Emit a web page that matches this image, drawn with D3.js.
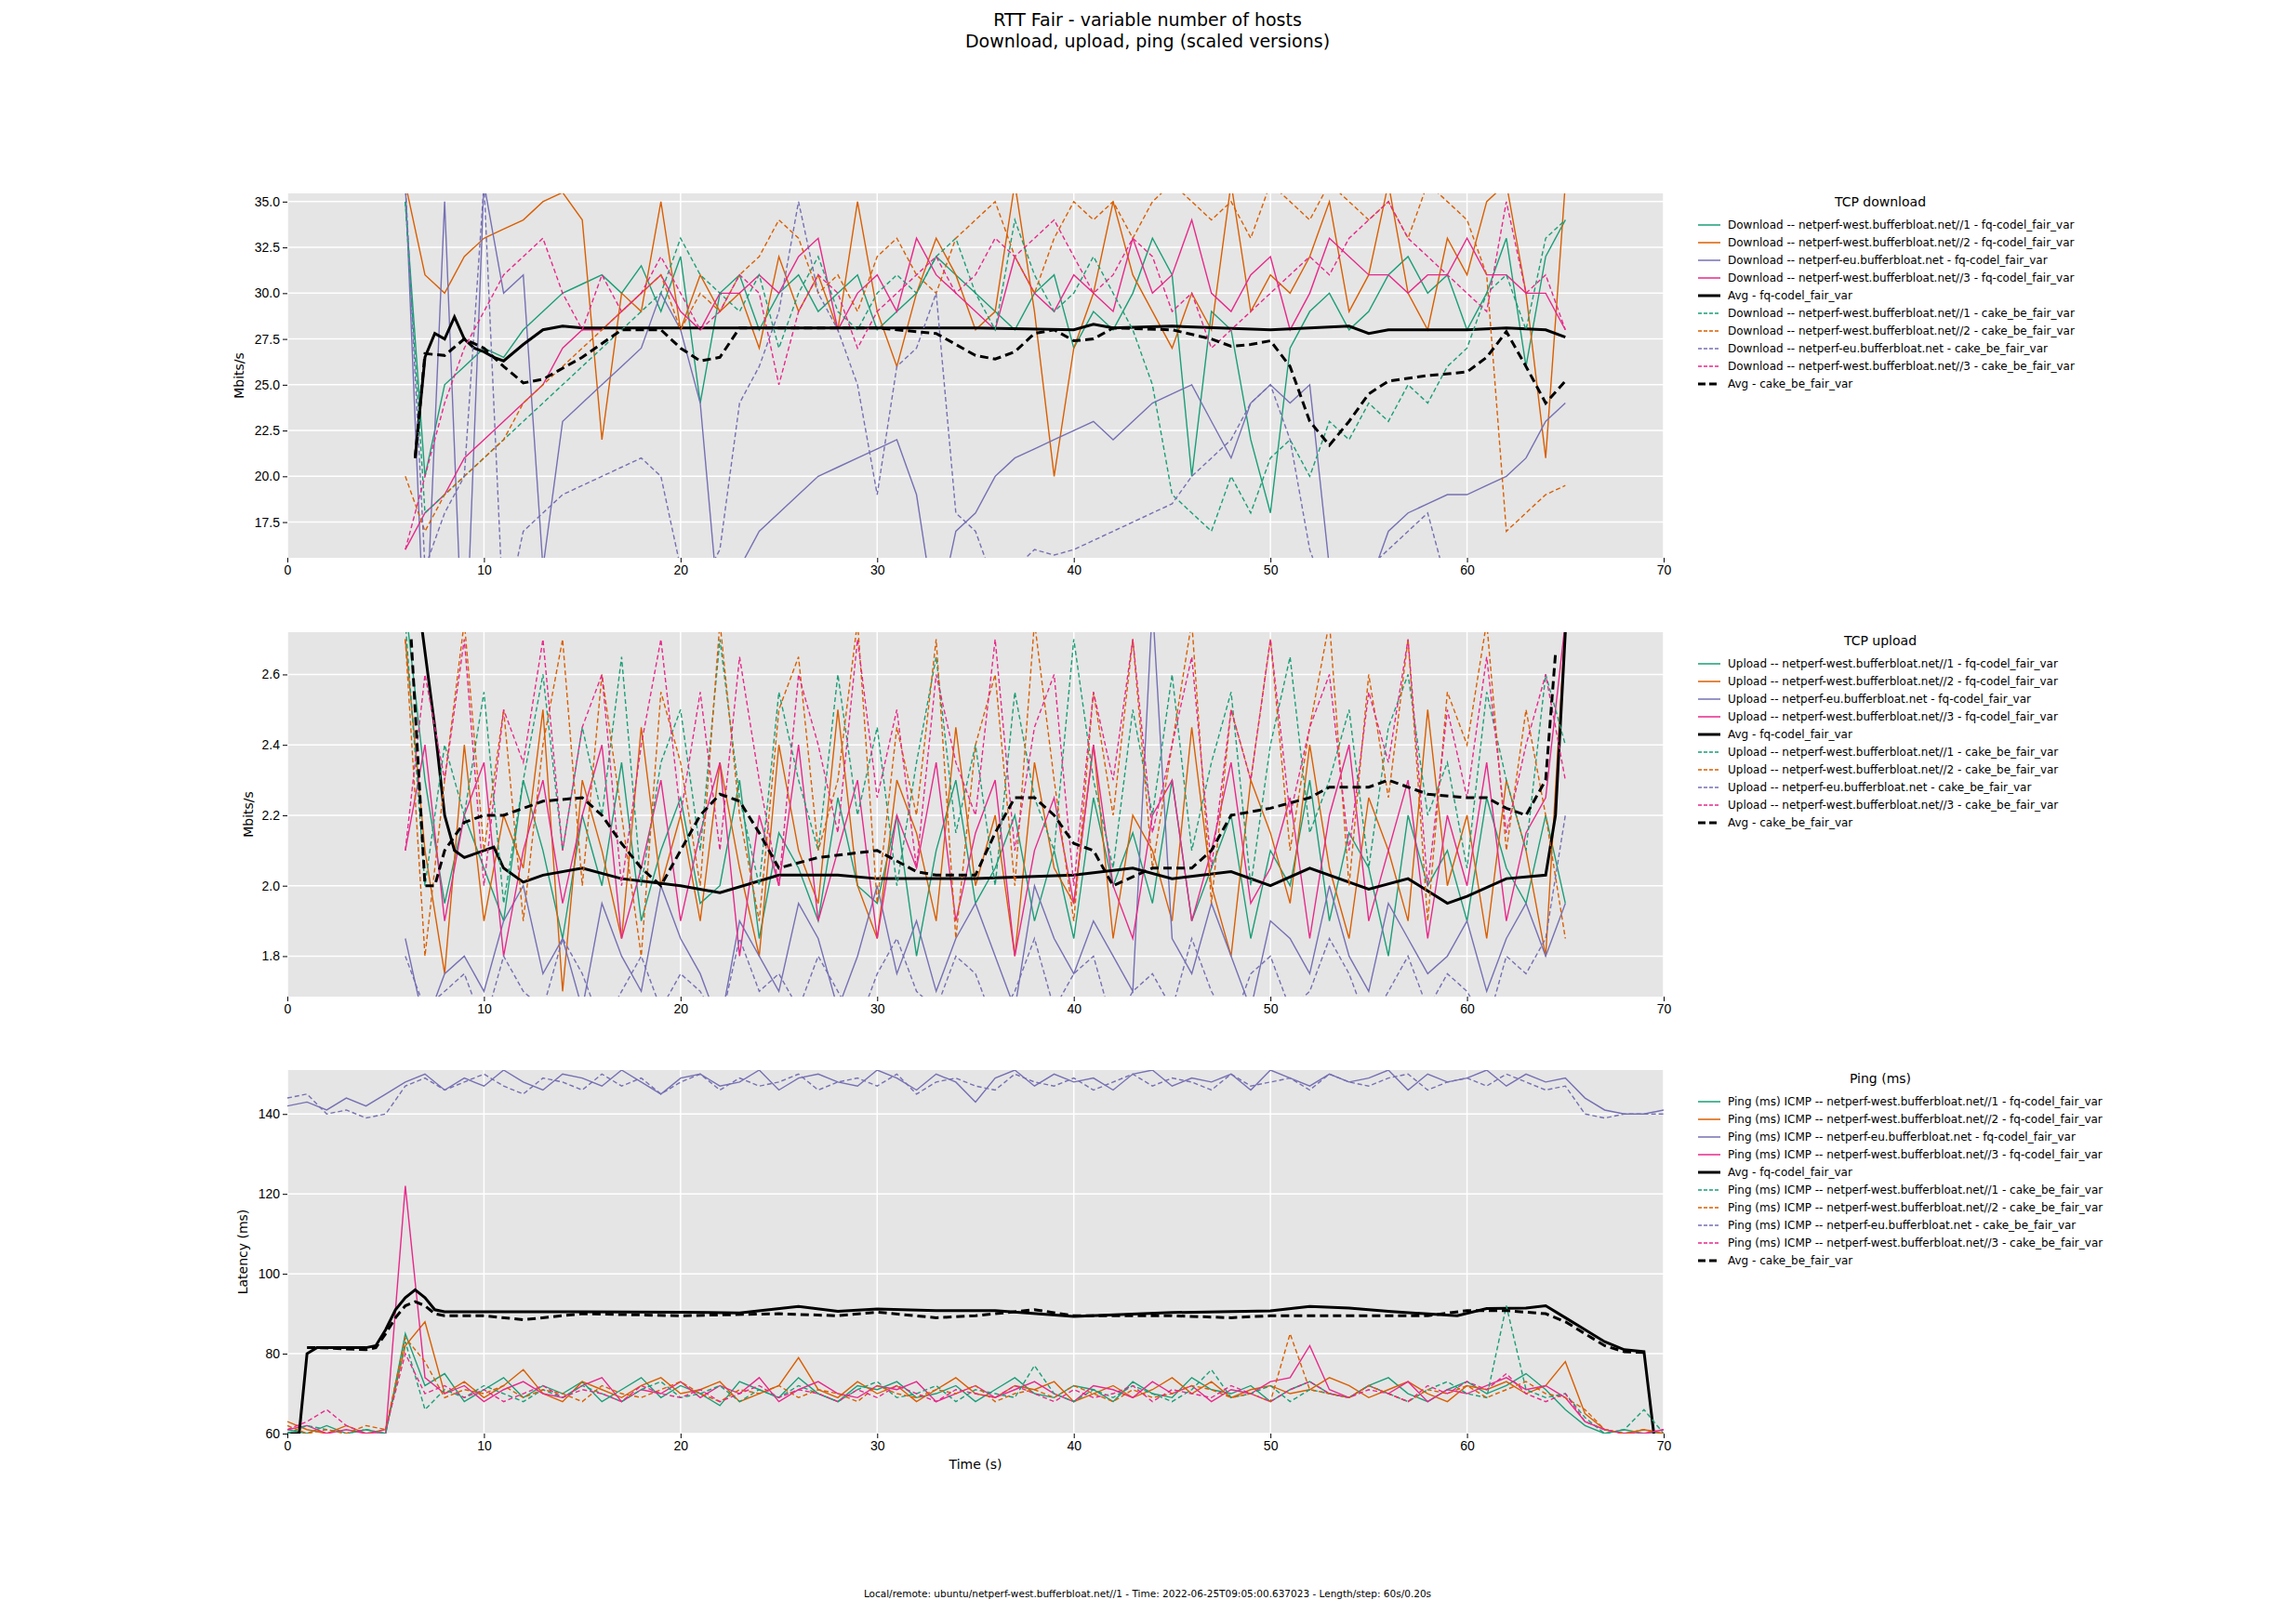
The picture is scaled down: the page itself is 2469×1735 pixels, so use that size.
<!DOCTYPE html>
<html><head><meta charset="utf-8">
<script src="https://cdn.jsdelivr.net/npm/d3@7"></script>
<style>
body{margin:0;background:#fff;font-family:"DejaVu Sans",sans-serif;}
.tick text{font-size:14px;fill:#000}
.tick line{stroke:#000}
.domain{display:none}
</style></head><body>
<svg id="chart" width="2469" height="1735"></svg>
<script>
const colors = ["#1b9e77", "#d95f02", "#7570b3", "#e7298a"];
const hosts = ["netperf-west.bufferbloat.net//1", "netperf-west.bufferbloat.net//2", "netperf-eu.bufferbloat.net", "netperf-west.bufferbloat.net//3"];

// per-second samples, t = 6 .. 65
const dlFq1 = [35,20,25,26,27,26.5,28,29,30,30.5,31,30,31.5,29,32,24,30,31,28,30,31,29,30,31,28,29,30,32,31,30,29,28,30,31,27,29,28,30,33,31,20,29,28,22,18,27,29,30,28,29,31,32,30,31,28,30,33,26,32,34];
const dlFq2 = [36,31,30,32,33,33.5,34,35,35.5,34,22,30,29,35,28,31,29,30,27,32,29,31,28,35,29,26,30,33,31,28,29,36,29,20,27,30,35,31,29,27,30,28,36,29,31,30,32,35,29,31,36,30,28,33,31,35,36,30,21,36];
const dlFq3 = [36,10,35,8,36,30,31,15,23,24,25,26,27,30,28,24,12,15,17,18,19,20,20.5,21,21.5,22,19,12,17,18,20,21,21.5,22,22.5,23,22,23,24,24.5,25,23,21,24,25,24,25,15,15,14,17,18,18.5,19,19,19.5,20,21,23,24];
const dlFq4 = [16,18,19,21,22,23,24,25,27,28,28,29,30,31,29,28,30,30,31,30,32,33,28,30,31,29,33,31,30,29,28,32,30,29,31,30,29,33,30,31,34,30,29,31,32,28,30,33,32,31,31,30,31,31,33,31,31,30,30,28];
const dlCk1 = [35,18,19,20,21,22,23,24,25,26,27,28,29,30,33,31,30,29,31,27,30,32,29,28,30,31,30,32,33,30,28,34,31,29,30,32,30,28,25,19,18,17,20,18,21,22,20,23,22,24,23,25,24,26,27,30,31,28,33,34];
const dlCk2 = [20,17,19,20,21,22,24,25,26,27,28,29,30,31,28,30,29,31,32,34,33,30,31,29,32,33,31,30,33,34,35,32,30,33,35,34,35,33,35,36,35,34,35,33,36,35,34,36,35,34,35,33,36,35,34,31,17,18,19,19.5];
const dlCk3 = [36,15,18,20,36,12,17,18,19,19.5,20,20.5,21,20,15,14,16,24,26,29,35,30,28,25,19,26,27,30,18,17,14,15,16,15.7,16,16.5,17,17.5,18,18.5,20,21,22,24,25,22,16,13,14,15,16,17,18,14,15,13,14,15,14,14];
const dlCk4 = [16,20,24,27,29,31,32,33,30,28,31,29,30,32,30,28,29,31,30,25,29,31,30,27,29,30,31,32,30,31,33,32,33,34,32,30,31,33,32,29,30,27,28,29,30,31,32,31,33,34,35,33,32,31,30,29,35,30,31,28];
const dlAvgFqT = [6.5,7,7.5,8,8.5,9,9.5,10,10.5,11,12,13,14,15,20,25,30,35,40,41,42,45,50,54,55,56,60,62,64,65];
const dlAvgFq = [21,26.5,27.8,27.5,28.7,27.5,27,26.8,26.5,26.3,27.2,28,28.2,28.1,28.1,28.1,28.1,28.1,28,28.3,28.1,28.2,28,28.2,27.8,28,28,28.1,28,27.6];
const dlAvgCkT = [6.5,7,8,9,10,11,12,13,15,17,19,20,21,22,23,30,33,35,36,37,38,39,40,41,42,45,47,48,49,50,51,52,53,54,55,56,58,60,61,62,63,64,65];
const dlAvgCk = [21,26.7,26.6,27.5,27,26,25.1,25.3,26.5,28,28,27,26.3,26.5,28.1,28.1,27.8,26.6,26.4,26.8,27.8,28,27.4,27.5,28.1,28,27.5,27.1,27.2,27.4,26,23,21.7,23,24.5,25.2,25.5,25.7,26.5,27.9,26,24,25.2];

const ulFq1 = [2.8,2.3,1.95,2.2,2.05,1.9,2.3,2.1,1.85,2.2,2.0,2.35,1.9,2.1,2.25,1.95,2.0,2.3,1.85,2.15,2.05,1.9,2.25,2.0,1.95,2.2,1.8,2.1,2.3,1.95,2.05,2.2,1.9,2.1,1.85,2.25,2.0,2.15,1.95,2.3,1.9,2.05,2.2,1.85,2.1,2.0,2.3,1.9,2.15,2.05,1.8,2.2,2.0,2.1,1.9,2.25,2.05,1.95,2.2,1.95];
const ulFq2 = [2.7,2.1,1.75,2.4,1.9,2.2,2.05,2.5,1.7,2.3,2.1,1.85,2.45,2.0,2.2,1.9,2.35,2.05,1.8,2.4,2.1,1.95,2.5,2.0,1.85,2.3,2.15,1.9,2.45,2.0,2.2,1.8,2.35,2.05,1.95,2.4,1.85,2.2,2.1,1.9,2.45,2.0,1.8,2.3,2.15,1.95,2.4,2.05,1.85,2.25,2.1,1.9,2.5,2.0,2.2,1.85,2.3,2.1,1.8,2.75];
const ulFq3 = [1.85,1.6,1.75,1.8,1.7,1.9,2.0,1.75,1.85,1.65,1.95,1.8,1.7,2.0,1.85,1.75,1.6,1.9,1.8,1.7,1.95,1.85,1.65,1.8,2.0,1.75,1.9,1.7,1.85,1.95,1.8,1.65,2.0,1.85,1.75,1.9,1.8,1.7,2.8,1.85,1.75,1.95,1.8,1.65,1.9,1.85,1.75,2.0,1.8,1.7,1.95,1.85,1.75,1.8,1.9,1.7,1.85,1.95,1.8,1.95];
const ulFq4 = [2.1,2.4,1.9,2.2,2.35,1.8,2.1,2.3,1.95,2.2,2.4,1.85,2.05,2.3,1.9,2.15,2.35,1.8,2.2,2.0,2.4,1.9,2.1,2.3,1.85,2.2,2.05,2.35,1.9,2.15,2.3,1.8,2.1,2.25,1.95,2.4,2.0,1.85,2.2,2.3,1.9,2.1,2.35,1.95,2.05,2.25,1.85,2.2,2.4,1.9,2.1,2.3,1.85,2.2,2.0,2.35,1.9,2.15,2.25,2.75];
const ulCk1 = [2.75,2.0,2.4,2.2,2.55,1.95,2.3,2.6,2.1,2.45,2.2,2.65,2.0,2.35,2.5,2.1,2.7,2.25,2.0,2.55,2.3,2.1,2.6,2.2,2.45,2.0,2.35,2.65,2.15,2.4,2.0,2.55,2.25,2.1,2.7,2.3,2.05,2.5,2.2,2.6,2.1,2.35,2.55,2.0,2.4,2.65,2.15,2.3,2.5,2.05,2.45,2.6,2.2,2.35,2.05,2.55,2.3,2.1,2.6,2.4];
const ulCk2 = [2.7,1.8,2.3,2.75,2.1,2.5,1.9,2.4,2.7,2.0,2.6,2.2,1.8,2.55,2.35,2.0,2.75,2.2,1.9,2.5,2.65,2.1,2.3,2.75,1.95,2.45,2.2,2.7,1.85,2.4,2.6,2.0,2.75,2.3,1.9,2.55,2.2,2.7,2.05,2.4,2.75,1.95,2.5,2.3,2.7,2.1,2.45,2.75,2.0,2.6,2.25,2.7,1.9,2.55,2.4,2.75,2.1,2.5,2.2,1.85];
const ulCk3 = [1.8,1.65,1.7,1.75,1.6,1.8,1.7,1.65,1.85,1.75,1.6,1.7,1.8,1.65,1.75,1.7,1.6,1.85,1.7,1.75,1.65,1.8,1.7,1.6,1.75,1.85,1.7,1.65,1.8,1.75,1.6,1.7,1.85,1.65,1.75,1.8,1.6,1.7,1.75,1.65,1.85,1.7,1.6,1.75,1.8,1.65,1.7,1.85,1.75,1.6,1.7,1.8,1.65,1.75,1.7,1.6,1.8,1.75,1.85,2.2];
const ulCk4 = [2.1,2.6,2.3,2.7,2.0,2.5,2.35,2.7,2.1,2.45,2.6,2.0,2.4,2.7,2.2,2.55,2.1,2.65,2.3,2.0,2.6,2.4,2.15,2.7,2.25,2.5,2.05,2.6,2.35,2.2,2.7,2.1,2.45,2.6,2.0,2.55,2.3,2.7,2.15,2.4,2.65,2.05,2.5,2.3,2.7,2.2,2.45,2.6,2.1,2.55,2.35,2.7,2.0,2.5,2.25,2.65,2.15,2.4,2.6,2.3];
const ulAvgFqT = [6.3,6.8,7.5,8,8.5,9,10,10.5,11,12,13,15,17,20,22,25,28,30,35,40,43,45,48,50,52,55,57,59,60,62,64,64.5,65];
const ulAvgFq = [2.8,2.75,2.45,2.2,2.1,2.08,2.1,2.11,2.05,2.01,2.03,2.05,2.02,2.0,1.98,2.03,2.03,2.02,2.02,2.03,2.05,2.02,2.04,2.0,2.05,1.99,2.02,1.95,1.97,2.02,2.03,2.2,2.72];
const ulAvgCkT = [6.3,7,7.5,8,9,10,11,13,15,16,17,18,19,20,21,22,23,24,25,27,30,32,33,35,36,37,38,39,40,41,42,44,45,46,47,48,50,52,53,55,56,58,60,61,62,63,64,64.5];
const ulAvgCk = [2.7,2.0,2.0,2.1,2.18,2.2,2.2,2.24,2.25,2.2,2.12,2.05,2.0,2.1,2.2,2.26,2.24,2.15,2.05,2.08,2.1,2.04,2.03,2.03,2.15,2.25,2.25,2.2,2.12,2.1,2.0,2.05,2.05,2.05,2.1,2.2,2.22,2.25,2.28,2.28,2.3,2.26,2.25,2.25,2.22,2.2,2.3,2.66];

// ping, per-second samples, t = 0 .. 70
const pgFq1 = [61,60,62,60,61,60,85,72,75,68,71,74,69,72,70,73,68,71,74,69,72,70,67,73,71,69,74,70,68,72,71,73,69,70,72,68,71,74,70,69,72,71,68,73,70,69,74,71,70,72,68,71,73,70,69,72,74,70,68,71,73,70,72,75,71,66,62,60,61,60,60];
const pgFq2 = [63,61,60,62,60,61,82,88,70,73,69,72,76,70,68,73,71,69,72,74,70,71,73,68,70,72,79,71,69,73,70,72,68,71,74,70,69,72,71,73,68,70,72,69,71,74,70,73,69,71,72,70,71,74,72,69,71,73,70,68,72,71,73,70,72,78,65,61,60,61,60];
const pgFq3 = [142,143,141,144,142,145,148,150,146,149,147,151,148,146,150,149,147,151,148,145,149,150,147,148,151,146,149,150,148,147,151,149,146,150,148,143,149,151,147,150,148,149,146,150,151,147,149,148,150,146,151,149,147,150,148,149,151,146,150,148,149,151,147,150,148,149,144,141,140,140,141];
const pgFq4 = [61,62,60,61,60,60,122,74,70,72,68,71,73,70,69,72,74,68,71,70,73,69,72,70,74,68,71,73,70,69,72,71,73,68,70,72,69,71,73,70,68,72,71,69,73,70,72,68,71,70,73,74,82,71,69,72,70,73,68,71,70,72,74,71,72,69,63,61,60,60,61];
const pgCk1 = [60,62,61,60,61,60,83,66,71,69,72,70,68,71,69,72,70,68,71,73,69,70,72,68,71,69,72,70,68,71,73,69,70,72,68,71,70,69,77,70,68,71,69,72,70,68,71,76,69,70,72,68,71,70,69,72,70,68,71,73,70,69,92,71,69,70,64,60,61,66,60];
const pgCk2 = [62,60,61,60,62,61,84,78,69,71,70,72,69,71,70,68,72,70,69,71,73,70,68,71,70,72,69,71,70,68,72,70,69,71,70,72,68,70,71,69,72,70,68,71,69,70,72,71,69,70,68,85,71,70,69,72,70,68,71,70,72,69,71,73,70,69,66,61,60,61,60];
const pgCk3 = [144,145,140,141,139,140,147,149,146,148,150,147,145,149,148,146,150,147,149,145,148,150,146,149,147,148,150,146,148,149,147,150,145,148,149,147,146,150,148,147,149,146,148,150,147,149,148,146,150,147,148,149,146,150,148,147,149,150,146,148,149,147,150,148,146,147,140,139,140,140,140];
const pgCk4 = [61,63,66,62,60,61,80,70,72,69,71,68,70,72,69,71,70,68,72,70,69,71,68,70,72,69,71,70,68,71,69,72,70,68,71,70,69,72,70,68,71,69,70,72,68,71,70,69,72,70,68,71,73,70,69,71,70,68,72,70,73,71,75,70,68,70,63,61,60,60,61];
const pgAvgFqT = [0,0.6,1,1.5,4,4.5,5,5.5,6,6.5,7,7.5,8,10,15,20,23,26,28,30,33,36,40,45,50,52,54,56,59.5,61,63,64,65,66,67,68,69,69.5];
const pgAvgFq = [60,60,80,81.5,81.5,82,86,91,94,96,94,91,90.5,90.5,90.5,90.4,90.2,91.8,90.6,91.2,90.8,90.8,89.3,90.3,90.7,91.8,91.4,90.6,89.5,91.3,91.4,92,89,86,83,81,80.5,60];
const pgAvgCkT = [1,1.5,4,4.5,5,5.5,6,6.5,7,7.5,8,10,12,15,20,25,28,30,33,35,38,40,45,48,50,55,58,60,62,64,65,66,67,68,69];
const pgAvgCk = [81.5,81.5,81,81.5,85,89,92,93,92,90,89.5,89.5,88.5,90,89.5,90,89.5,90.4,89,89.5,91,89.5,89.5,89,89.5,89.5,89.5,90.8,90.8,90,88,85,82,80.5,80.3];

const dlTicks = [17.5,20,22.5,25,27.5,30,32.5,35];
const ulTicks = [1.8,2.0,2.2,2.4,2.6];
const pgTicks = [60,80,100,120,140];
const xTicks = [0,10,20,30,40,50,60,70];

const X0 = 309, X1 = 1789;
const svg = d3.select("#chart");
const x = d3.scaleLinear().domain([0,70]).range([X0,X1]);
const secT = d3.range(6,66);
const pingT = d3.range(0,71);

svg.append("text").attr("x",1234).attr("y",28).attr("text-anchor","middle").attr("font-size",19)
  .text("RTT Fair - variable number of hosts");
svg.append("text").attr("x",1234).attr("y",51).attr("text-anchor","middle").attr("font-size",19)
  .text("Download, upload, ping (scaled versions)");

function panel(opt) {
  const y = d3.scaleLinear().domain(opt.dom).range([opt.y1, opt.y0]);
  const g = svg.append("g");
  g.append("rect").attr("x",X0).attr("y",opt.y0).attr("width",X1-X0).attr("height",opt.y1-opt.y0).attr("fill","#e5e5e5");
  const cid = "clip" + opt.id;
  svg.append("clipPath").attr("id",cid).append("rect").attr("x",X0).attr("y",opt.y0).attr("width",X1-X0).attr("height",opt.y1-opt.y0);
  g.selectAll(".hg").data(opt.ticks).join("line").attr("x1",X0).attr("x2",X1)
    .attr("y1",d=>y(d)).attr("y2",d=>y(d)).attr("stroke","#fff").attr("stroke-width",1.5);
  g.selectAll(".vg").data(xTicks).join("line").attr("y1",opt.y0).attr("y2",opt.y1)
    .attr("x1",d=>x(d)).attr("x2",d=>x(d)).attr("stroke","#fff").attr("stroke-width",1.5);
  g.append("g").attr("transform",`translate(${X0},0)`).call(d3.axisLeft(y).tickValues(opt.ticks).tickFormat(opt.fmt).tickSize(5));
  g.append("g").attr("transform",`translate(0,${opt.y1})`).call(d3.axisBottom(x).tickValues(xTicks).tickSize(5));
  g.append("text").attr("transform",`translate(${opt.ylx},${(opt.y0+opt.y1)/2}) rotate(-90)`)
    .attr("text-anchor","middle").attr("font-size",14).text(opt.ylabel);
  const lg = g.append("g").attr("clip-path",`url(#${cid})`);
  const line = d3.line().x(d=>x(d[0])).y(d=>y(d[1]));
  opt.series.forEach(s => {
    lg.append("path").attr("d", line(s.t.map((t,i)=>[t,s.v[i]]))).attr("fill","none")
      .attr("stroke",s.c).attr("stroke-width",s.avg?3:1.4)
      .attr("stroke-dasharray",s.dash?(s.avg?"9,5":"5,3"):null);
  });
  // legend
  const lx = 1826, ly = opt.y0 + 8;
  g.append("text").attr("x",lx+196).attr("y",ly+6).attr("text-anchor","middle").attr("font-size",14).text(opt.title);
  opt.series.forEach((s,i) => {
    const yy = ly + 26 + i*19;
    g.append("line").attr("x1",lx).attr("x2",lx+24).attr("y1",yy).attr("y2",yy).attr("stroke",s.c)
      .attr("stroke-width",s.avg?3:1.5).attr("stroke-dasharray",s.dash?(s.avg?"8,4":"4,2"):null);
    g.append("text").attr("x",lx+32).attr("y",yy+4).attr("font-size",12).text(s.name);
  });
}

function build(prefix, fq, ck, t, avgFqT, avgFq, avgCkT, avgCk) {
  const s = [];
  fq.forEach((v,i)=>s.push({t:t,v:v,c:colors[i],name:`${prefix} -- ${hosts[i]} - fq-codel_fair_var`}));
  s.push({t:avgFqT,v:avgFq,c:"#000",avg:true,name:"Avg - fq-codel_fair_var"});
  ck.forEach((v,i)=>s.push({t:t,v:v,c:colors[i],dash:true,name:`${prefix} -- ${hosts[i]} - cake_be_fair_var`}));
  s.push({t:avgCkT,v:avgCk,c:"#000",avg:true,dash:true,name:"Avg - cake_be_fair_var"});
  return s;
}

panel({id:1,y0:208,y1:600,dom:[15.55,35.45],ticks:dlTicks,fmt:d3.format(".1f"),ylabel:"Mbits/s",ylx:262,title:"TCP download",
  series:build("Download",[dlFq1,dlFq2,dlFq3,dlFq4],[dlCk1,dlCk2,dlCk3,dlCk4],secT,dlAvgFqT,dlAvgFq,dlAvgCkT,dlAvgCk)});
panel({id:2,y0:680,y1:1072,dom:[1.685,2.72],ticks:ulTicks,fmt:d3.format(".1f"),ylabel:"Mbits/s",ylx:272,title:"TCP upload",
  series:build("Upload",[ulFq1,ulFq2,ulFq3,ulFq4],[ulCk1,ulCk2,ulCk3,ulCk4],secT,ulAvgFqT,ulAvgFq,ulAvgCkT,ulAvgCk)});
panel({id:3,y0:1151,y1:1542,dom:[60,151],ticks:pgTicks,fmt:d3.format("d"),ylabel:"Latency (ms)",ylx:266,title:"Ping (ms)",
  series:build("Ping (ms) ICMP",[pgFq1,pgFq2,pgFq3,pgFq4],[pgCk1,pgCk2,pgCk3,pgCk4],pingT,pgAvgFqT,pgAvgFq,pgAvgCkT,pgAvgCk)});

svg.append("text").attr("x",1049).attr("y",1580).attr("text-anchor","middle").attr("font-size",14).text("Time (s)");
svg.append("text").attr("x",1234).attr("y",1718).attr("text-anchor","middle").attr("font-size",10.5)
  .text("Local/remote: ubuntu/netperf-west.bufferbloat.net//1 - Time: 2022-06-25T09:05:00.637023 - Length/step: 60s/0.20s");
</script></body></html>
